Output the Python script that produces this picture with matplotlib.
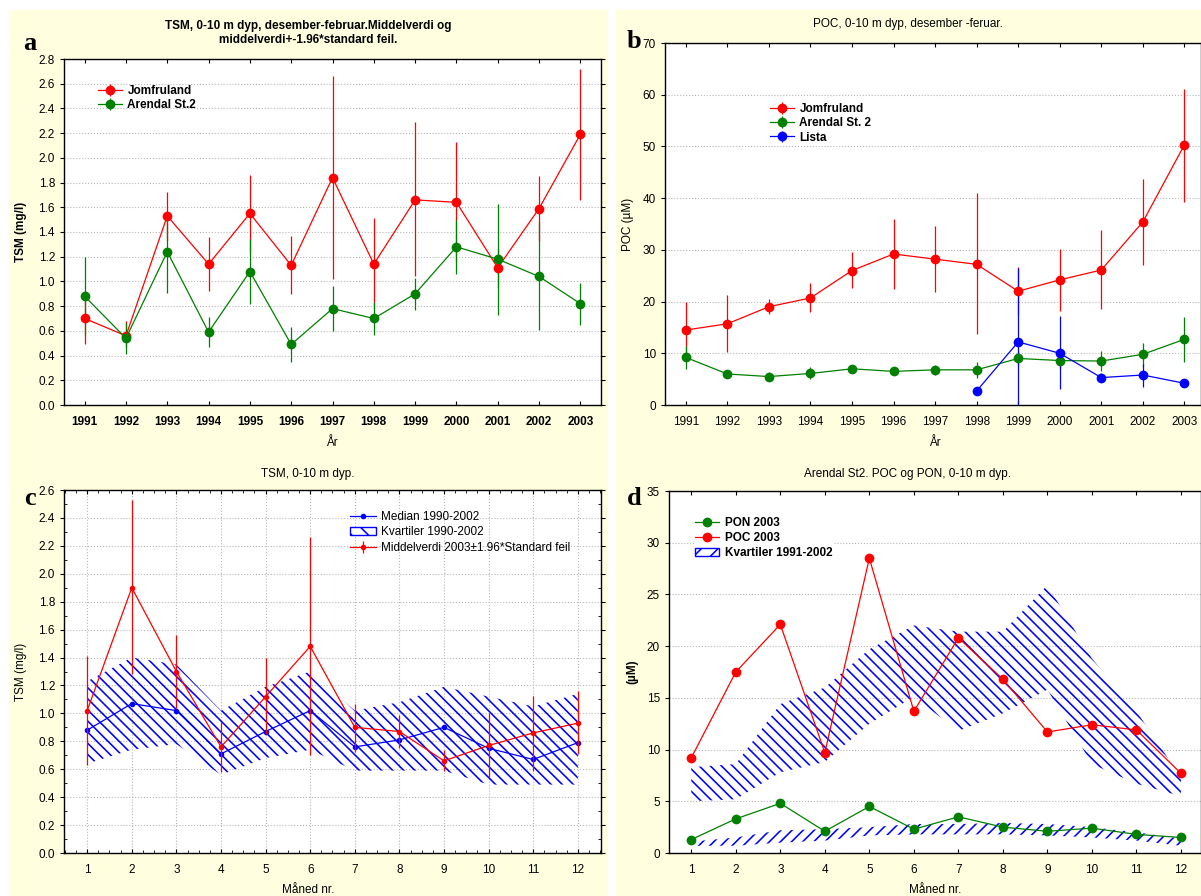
import numpy as np
import matplotlib
matplotlib.use('Agg')
import matplotlib.pyplot as plt
import matplotlib.patches as pth
from matplotlib.lines import Line2D
from matplotlib.ticker import MultipleLocator, FormatStrFormatter

plt.rcParams['font.family'] = ['Liberation Sans', 'DejaVu Sans']
plt.rcParams['hatch.linewidth'] = 1.15

# panel a: TSM winter means, 1991-2003
years = list(range(1991, 2004))
tsmJom = [0.70, 0.56, 1.53, 1.14, 1.55, 1.13, 1.84, 1.14, 1.66, 1.64, 1.11, 1.59, 2.19]
tsmJomLo = [0.49, 0.47, 1.33, 0.92, 1.24, 0.90, 1.02, 0.78, 1.04, 1.16, 0.95, 1.33, 1.66]
tsmJomHi = [0.92, 0.68, 1.72, 1.36, 1.86, 1.37, 2.66, 1.51, 2.29, 2.13, 1.27, 1.85, 2.72]
tsmAre = [0.88, 0.54, 1.24, 0.59, 1.08, 0.49, 0.78, 0.70, 0.90, 1.28, 1.18, 1.04, 0.82]
tsmAreLo = [0.57, 0.41, 0.91, 0.47, 0.82, 0.35, 0.60, 0.57, 0.77, 1.06, 0.73, 0.61, 0.65]
tsmAreHi = [1.20, 0.66, 1.55, 0.71, 1.34, 0.63, 0.96, 0.83, 1.03, 1.50, 1.63, 1.48, 0.99]

# panel b: POC winter means
pocJom = [14.5, 15.7, 19.0, 20.7, 26.0, 29.2, 28.2, 27.2, 22.0, 24.2, 26.1, 35.4, 50.3]
pocJomLo = [9.0, 10.2, 17.6, 18.0, 22.6, 22.4, 21.8, 13.7, 17.4, 18.2, 18.5, 27.1, 39.3]
pocJomHi = [20.0, 21.3, 20.5, 23.5, 29.5, 36.0, 34.6, 40.9, 26.6, 30.2, 33.8, 43.7, 61.2]
pocAre = [9.2, 6.0, 5.5, 6.1, 7.0, 6.5, 6.8, 6.8, 9.0, 8.6, 8.5, 9.8, 12.7]
pocAreLo = [7.0, 5.5, 4.8, 5.0, 6.5, 6.0, 5.8, 5.2, 7.5, 7.2, 6.5, 7.5, 8.3]
pocAreHi = [11.5, 6.5, 6.3, 7.3, 7.5, 7.0, 7.8, 8.3, 10.5, 10.0, 10.5, 12.0, 17.0]
listaYears = [1998, 1999, 2000, 2001, 2002, 2003]
pocLis = [2.7, 12.2, 10.0, 5.3, 5.8, 4.2]
pocLisLo = [2.7, -2.0, 3.0, 4.5, 3.5, 4.2]
pocLisHi = [2.7, 26.4, 17.2, 6.1, 8.0, 4.2]

# panel c: TSM per month
months = list(range(1, 13))
tsm03 = [1.02, 1.90, 1.30, 0.76, 1.12, 1.48, 0.90, 0.87, 0.66, 0.77, 0.86, 0.93]
tsm03Lo = [0.63, 1.28, 1.04, 0.58, 0.85, 0.70, 0.725, 0.75, 0.59, 0.545, 0.59, 0.71]
tsm03Hi = [1.41, 2.53, 1.56, 0.94, 1.40, 2.26, 1.07, 0.99, 0.74, 1.005, 1.125, 1.16]
tsmMed = [0.88, 1.07, 1.02, 0.71, 0.87, 1.02, 0.76, 0.81, 0.90, 0.75, 0.67, 0.79]
tsmQ1 = [0.64, 0.74, 0.78, 0.56, 0.68, 0.74, 0.59, 0.59, 0.59, 0.49, 0.49, 0.49]
tsmQ3 = [1.23, 1.40, 1.35, 1.02, 1.19, 1.30, 1.02, 1.08, 1.19, 1.12, 1.05, 1.14]

# panel d: Arendal St2 POC / PON per month
poc03 = [9.2, 17.5, 22.1, 9.7, 28.5, 13.7, 20.8, 16.8, 11.7, 12.4, 11.9, 7.7]
pon03 = [1.3, 3.3, 4.8, 2.1, 4.5, 2.3, 3.5, 2.5, 2.1, 2.4, 1.8, 1.5]
pocQ1 = [5.0, 5.2, 7.8, 8.8, 12.5, 15.1, 11.8, 13.5, 15.8, 8.6, 6.7, 5.5]
pocQ3 = [8.3, 8.6, 14.4, 16.0, 19.7, 22.0, 21.4, 21.4, 25.9, 18.8, 13.7, 7.3]
ponQ1 = [0.7, 0.7, 1.0, 1.2, 1.7, 1.8, 1.8, 1.8, 1.7, 1.5, 1.2, 0.7]
ponQ3 = [1.1, 1.5, 2.2, 2.3, 2.5, 2.8, 2.8, 2.9, 2.8, 2.5, 2.0, 1.4]

W, H = 1201, 896
RED, GREEN, BLUE = '#ff0000', '#008000', '#0000ff'
YELLOW = '#ffffe0'
FS = 8.5


def px(x, y):
    return x/W, 1-y/H


def addAxes(left, top, right, bottom):
    return figure.add_axes([left/W, 1-bottom/H, (right-left)/W, (bottom-top)/H])


def errs(vals, lo, hi):
    vals = np.array(vals)
    return [vals-np.array(lo), np.array(hi)-vals]


def styleAxes(axes, gridX=False):
    axes.grid(axis='y', color='#b8b8b8', linestyle=':', linewidth=0.8)
    if gridX:
        axes.grid(axis='x', color='#b8b8b8', linestyle=':', linewidth=0.8)
    axes.set_axisbelow(True)
    axes.tick_params(axis='x', direction='in', top=True, length=3,
                     labelsize=FS, pad=8)
    axes.tick_params(axis='y', direction='out', length=3, labelsize=FS)
    axes.tick_params(axis='y', which='both', right=True)
    for spine in axes.spines.values():
        spine.set_linewidth(1.0)


def errPlot(axes, x, y, lo, hi, color, label, ms=6):
    return axes.errorbar(x, y, yerr=errs(y, lo, hi), color=color, marker='o',
                         markersize=ms, linewidth=0.9, elinewidth=0.9,
                         capsize=0, label=label)


figure = plt.figure(figsize=(W/100, H/100), dpi=100)
figure.add_artist(pth.Rectangle(px(10, 896), 597/W, 886/H, color=YELLOW,
                                transform=figure.transFigure, zorder=0))
figure.add_artist(pth.Rectangle(px(616, 896), 585/W, 886/H, color=YELLOW,
                                transform=figure.transFigure, zorder=0))

# ---- a
axes = addAxes(64, 59, 601, 405)
h1 = errPlot(axes, years, tsmJom, tsmJomLo, tsmJomHi, RED, 'Jomfruland')
h2 = errPlot(axes, years, tsmAre, tsmAreLo, tsmAreHi, GREEN, 'Arendal St.2')
axes.set_xlim(1990.5, 2003.5)
axes.set_ylim(0, 2.8)
axes.set_xticks(years)
axes.yaxis.set_major_locator(MultipleLocator(0.2))
axes.yaxis.set_major_formatter(FormatStrFormatter('%.1f'))
styleAxes(axes)
for label in axes.get_xticklabels():
    label.set_fontweight('bold')
axes.set_ylabel('TSM (mg/l)', fontsize=FS, fontweight='bold', labelpad=8)
axes.legend(handles=[h1, h2], loc='upper left', frameon=False,
            bbox_to_anchor=px(92, 79), bbox_transform=figure.transFigure,
            prop={'size': FS, 'weight': 'bold'}, labelspacing=0.2,
            borderpad=0, handlelength=2.0, handletextpad=0.5)
figure.text(*px(308, 33), 'TSM, 0-10 m dyp, desember-februar.Middelverdi og\n'
            'middelverdi+-1.96*standard feil.', ha='center', va='center',
            fontsize=FS, fontweight='bold', linespacing=1.25)
figure.text(*px(332, 443), 'År', ha='center', va='center', fontsize=FS)

# ---- b
axes = addAxes(665, 43, 1201, 405)
h1 = errPlot(axes, years, pocJom, pocJomLo, pocJomHi, RED, 'Jomfruland')
h2 = errPlot(axes, years, pocAre, pocAreLo, pocAreHi, GREEN, 'Arendal St. 2')
h3 = errPlot(axes, listaYears, pocLis, pocLisLo, pocLisHi, BLUE, 'Lista')
axes.set_xlim(1990.5, 2003.4)
axes.set_ylim(0, 70)
axes.set_xticks(years)
axes.yaxis.set_major_locator(MultipleLocator(10))
styleAxes(axes)
axes.set_ylabel('POC (µM)', fontsize=FS, labelpad=6)
axes.legend(handles=[h1, h2, h3], loc='upper left', frameon=False,
            bbox_to_anchor=px(764, 97), bbox_transform=figure.transFigure,
            prop={'size': FS, 'weight': 'bold'}, labelspacing=0.2,
            borderpad=0, handlelength=2.0, handletextpad=0.5)
figure.text(*px(908, 24), 'POC, 0-10 m dyp, desember -feruar.',
            ha='center', va='center', fontsize=FS)
figure.text(*px(935, 443), 'År', ha='center', va='center', fontsize=FS)

# ---- c
axes = addAxes(64, 490, 601, 853)
axes.fill_between(months, tsmQ1, tsmQ3, facecolor='none', edgecolor=BLUE,
                  hatch='\\\\\\', linewidth=0)
axes.plot(months, tsmMed, color=BLUE, marker='o', markersize=3, linewidth=0.9)
h3 = errPlot(axes, months, tsm03, tsm03Lo, tsm03Hi, RED,
             'Middelverdi 2003±1.96*Standard feil', ms=3)
axes.set_xlim(0.48, 12.52)
axes.set_ylim(0, 2.6)
axes.set_xticks(months)
axes.xaxis.set_minor_locator(MultipleLocator(0.25))
axes.yaxis.set_major_locator(MultipleLocator(0.2))
axes.yaxis.set_minor_locator(MultipleLocator(0.1))
axes.yaxis.set_major_formatter(FormatStrFormatter('%.1f'))
styleAxes(axes, gridX=True)
axes.tick_params(axis='x', which='minor', direction='in', top=True, length=2)
axes.tick_params(axis='y', which='minor', direction='in', length=2)
axes.set_ylabel('TSM (mg/l)', fontsize=FS, labelpad=8)
h1 = Line2D([], [], color=BLUE, marker='o', markersize=3, linewidth=0.9)
h2 = pth.Patch(facecolor='white', edgecolor=BLUE, hatch='\\\\', linewidth=1)
axes.legend(handles=[h1, h2, h3],
            labels=['Median 1990-2002', 'Kvartiler 1990-2002',
                    'Middelverdi 2003±1.96*Standard feil'],
            loc='upper left', frameon=False,
            bbox_to_anchor=px(344, 505), bbox_transform=figure.transFigure,
            prop={'size': FS}, labelspacing=0.3, borderpad=0,
            handlelength=2.2, handletextpad=0.4)
figure.text(*px(308, 474), 'TSM, 0-10 m dyp.', ha='center', va='center',
            fontsize=FS)
figure.text(*px(308, 890), 'Måned nr.', ha='center', va='center', fontsize=FS)

# ---- d
axes = addAxes(669, 491, 1201, 853)
axes.fill_between(months, pocQ1, pocQ3, facecolor='none', edgecolor=BLUE,
                  hatch='\\\\\\', linewidth=0)
axes.fill_between(months, ponQ1, ponQ3, facecolor='none', edgecolor=BLUE,
                  hatch='///', linewidth=0)
h1, = axes.plot(months, pon03, color=GREEN, marker='o', markersize=6,
                linewidth=0.9)
h2, = axes.plot(months, poc03, color=RED, marker='o', markersize=6,
                linewidth=0.9)
axes.set_xlim(0.5, 12.45)
axes.set_ylim(0, 35)
axes.set_xticks(months)
axes.yaxis.set_major_locator(MultipleLocator(5))
styleAxes(axes)
axes.set_ylabel('(µM)', fontsize=FS, fontweight='bold', labelpad=6)
h3 = pth.Patch(facecolor='white', edgecolor=BLUE, hatch='//', linewidth=1)
axes.legend(handles=[h1, h2, h3],
            labels=['PON 2003', 'POC 2003', 'Kvartiler 1991-2002'],
            loc='upper left', frameon=True, facecolor='white',
            edgecolor='none', framealpha=1, fancybox=False,
            bbox_to_anchor=px(688, 510), bbox_transform=figure.transFigure,
            prop={'size': FS, 'weight': 'bold'}, labelspacing=0.25,
            borderpad=0.1, handlelength=2.0, handletextpad=0.5)
figure.text(*px(908, 474), 'Arendal St2. POC og PON, 0-10 m dyp.',
            ha='center', va='center', fontsize=FS)
figure.text(*px(935, 890), 'Måned nr.', ha='center', va='center', fontsize=FS)

# panel letters
for letter, x, y in [('a', 30, 44), ('b', 634, 42), ('c', 30, 498),
                     ('d', 634, 498)]:
    figure.text(*px(x, y), letter, ha='center', va='center', fontsize=19,
                fontweight='bold', family=['Liberation Serif', 'DejaVu Serif'])

figure.savefig('out.png', dpi=100)
